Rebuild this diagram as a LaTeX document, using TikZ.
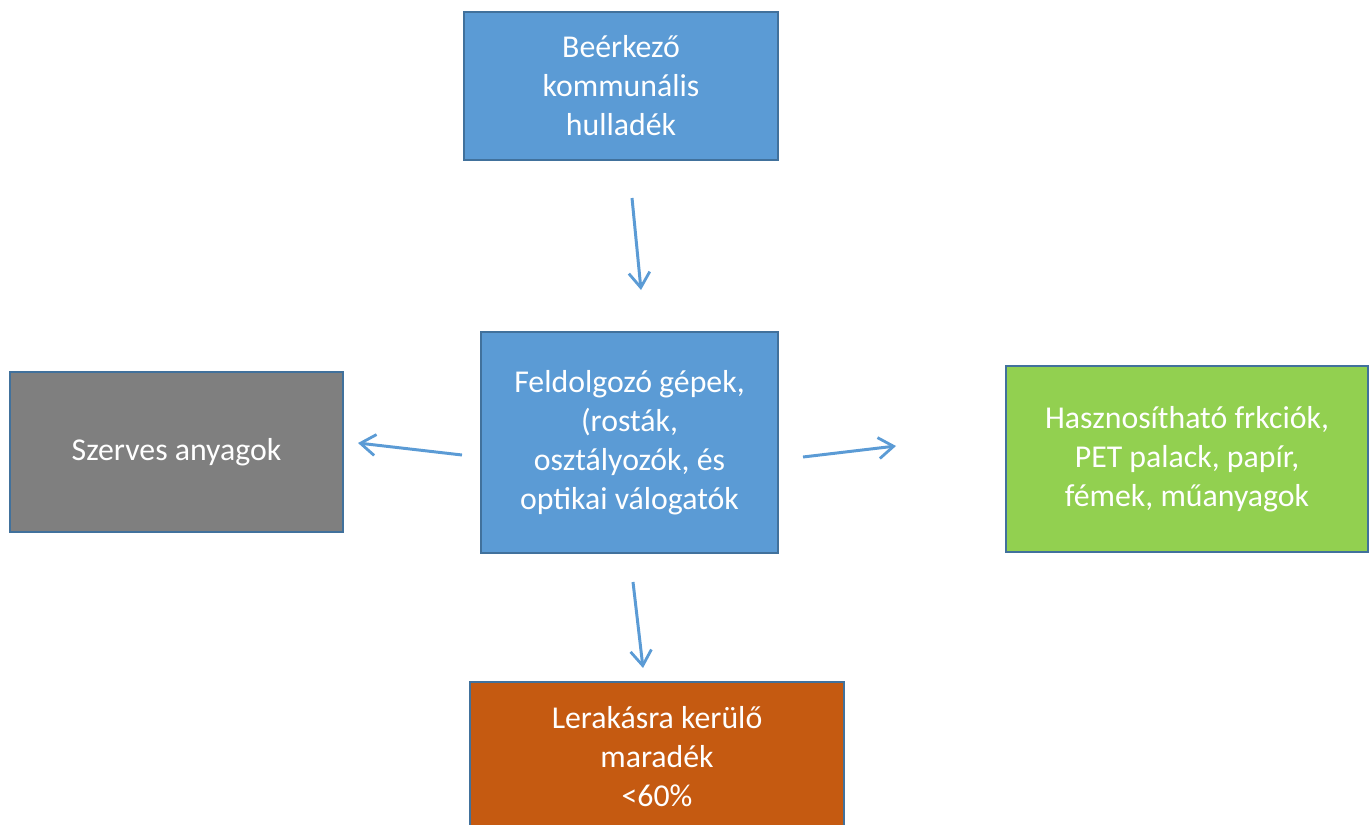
\documentclass[tikz,border=0pt]{standalone}
\usepackage{fontspec}
\setmainfont{Carlito}
\usepackage{tikz}
\usetikzlibrary{arrows.meta,positioning}

\definecolor{boxblue}{HTML}{5B9BD5}
\definecolor{edgeblue}{HTML}{41719C}
\definecolor{boxgray}{HTML}{7F7F7F}
\definecolor{boxgreen}{HTML}{92D050}
\definecolor{boxorange}{HTML}{C55A11}

\tikzset{
  stagebox/.style={draw=edgeblue, line width=1.1pt, text=white, align=center,
    font=\fontsize{18.1}{22.2}\selectfont, inner sep=0pt},
  flowarrow/.style={-{Straight Barb[length=0.3cm, width=0.42cm, line width=1.6pt]},
    draw=boxblue, line width=1.7pt}
}

\begin{document}
\begin{tikzpicture}[x=0.02cm, y=-0.02cm]

\useasboundingbox (0,0) rectangle (1371,824);
\clip (0,0) rectangle (1371,824);

% Boxes
\node[stagebox, fill=boxblue, minimum width=314*0.02cm, minimum height=148*0.02cm]
  (input) at (621,86) {Beérkező\\kommunális\\hulladék};
\node[stagebox, fill=boxblue, minimum width=297*0.02cm, minimum height=221*0.02cm]
  (machines) at (629.5,442.5) {Feldolgozó gépek,\\(rosták,\\osztályozók, és\\optikai válogatók};
\node[stagebox, fill=boxgray, minimum width=333*0.02cm, minimum height=160*0.02cm]
  (organic) at (176.5,452) {Szerves anyagok};
\node[stagebox, fill=boxgreen, minimum width=362*0.02cm, minimum height=186*0.02cm]
  (useful) at (1187,459) {Hasznosítható frkciók,\\PET palack, papír,\\fémek, műanyagok};
\node[stagebox, fill=boxorange, minimum width=374*0.02cm, minimum height=150*0.02cm]
  (residue) at (657,757) {Lerakásra kerülő\\maradék\\<60\%};

% Arrow ends (arrows float between the boxes)
\coordinate (inA) at (632,198);
\coordinate (inB) at (641,290);
\coordinate (leftA) at (462,455);
\coordinate (leftB) at (358,443);
\coordinate (rightA) at (803,457);
\coordinate (rightB) at (896,446);
\coordinate (downA) at (633,582);
\coordinate (downB) at (643,668);

\draw[flowarrow] (inA) -- (inB);
\draw[flowarrow] (leftA) -- (leftB);
\draw[flowarrow] (rightA) -- (rightB);
\draw[flowarrow] (downA) -- (downB);

\end{tikzpicture}
\end{document}
